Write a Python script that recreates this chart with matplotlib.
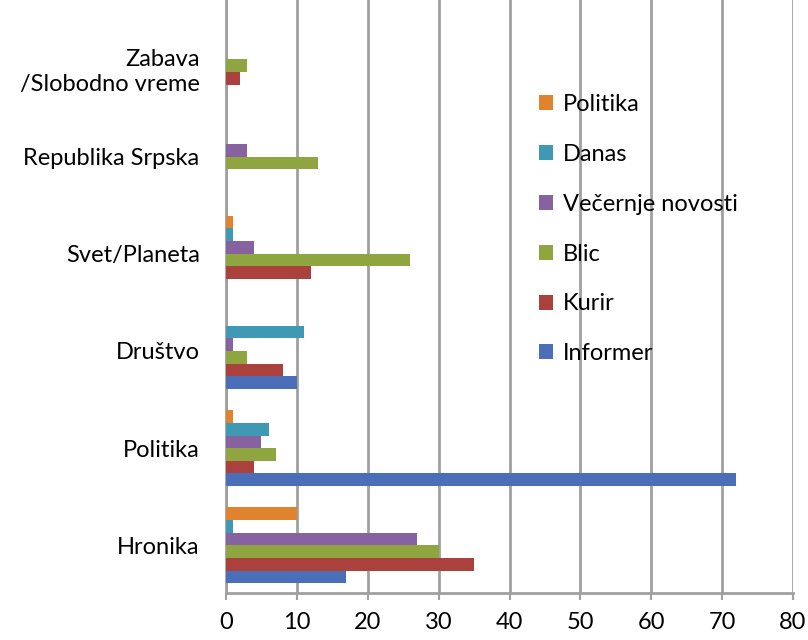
import numpy as np
import matplotlib.pyplot as plt
import matplotlib
from matplotlib.transforms import ScaledTranslation

matplotlib.rc('font', family=['Lato', 'DejaVu Sans'], size=17)

categories = ['Hronika', 'Politika', 'Društvo', 'Svet/Planeta',
              'Republika Srpska', 'Zabava\n/Slobodno vreme']
series = ['Informer', 'Kurir', 'Blic', 'Večernje novosti', 'Danas', 'Politika']
informer = [17, 72, 10, 0, 0, 0]
kurir = [35, 4, 8, 12, 0, 2]
blic = [30, 7, 3, 26, 13, 3]
vecernje = [27, 5, 1, 4, 3, 0]
danas = [1, 6, 11, 1, 0, 0]
politika = [10, 1, 0, 1, 0, 0]
values = [informer, kurir, blic, vecernje, danas, politika]
colors = ['#4A6FB8', '#AA413D', '#8FA53F', '#8762A1', '#3F99B4', '#E0832F']
xticks = [0, 10, 20, 30, 40, 50, 60, 70, 80]

fig = plt.figure(figsize=(8.08, 6.4), dpi=100)
ax = fig.add_axes([226 / 808, 1 - 593 / 640, (793 - 226) / 808, 593 / 640])

y = np.arange(len(categories))
h = 0.13
for i, (name, vals, c) in enumerate(zip(series, values, colors)):
    ax.barh(y + (i - 2.5) * h, vals, height=h, color=c, label=name, zorder=3)

ax.set_xlim(0, 80)
ax.set_ylim(-0.49, 5.61)
ax.set_xticks(xticks)
ax.set_yticks(y)
ax.set_yticklabels(categories, ha='right', multialignment='right')
ax.tick_params(axis='y', length=0, pad=19)
ax.tick_params(axis='x', length=5, color='#A0A0A0', width=1.5, pad=9)

# two-line label sits a bit lower than the category centre
lbl = ax.get_yticklabels()[-1]
lbl.set_transform(lbl.get_transform() + ScaledTranslation(0, -9 / 100, fig.dpi_scale_trans))

ax.grid(axis='x', color='#A0A0A0', linewidth=2, zorder=0)
for s in ['top', 'right']:
    ax.spines[s].set_visible(False)
ax.spines['left'].set_color('#A0A0A0')
ax.spines['left'].set_linewidth(2)
ax.spines['bottom'].set_color('#A0A0A0')
ax.spines['bottom'].set_linewidth(2)

handles, labels = ax.get_legend_handles_labels()
ax.legend(handles[::-1], labels[::-1], loc='upper left',
          bbox_to_anchor=(518 / 808, 1 - 73 / 640), bbox_transform=fig.transFigure,
          frameon=False, handlelength=0.6, handleheight=0.6,
          handletextpad=0.4, labelspacing=1.22, fontsize=17)

plt.savefig('out.png', dpi=100)
